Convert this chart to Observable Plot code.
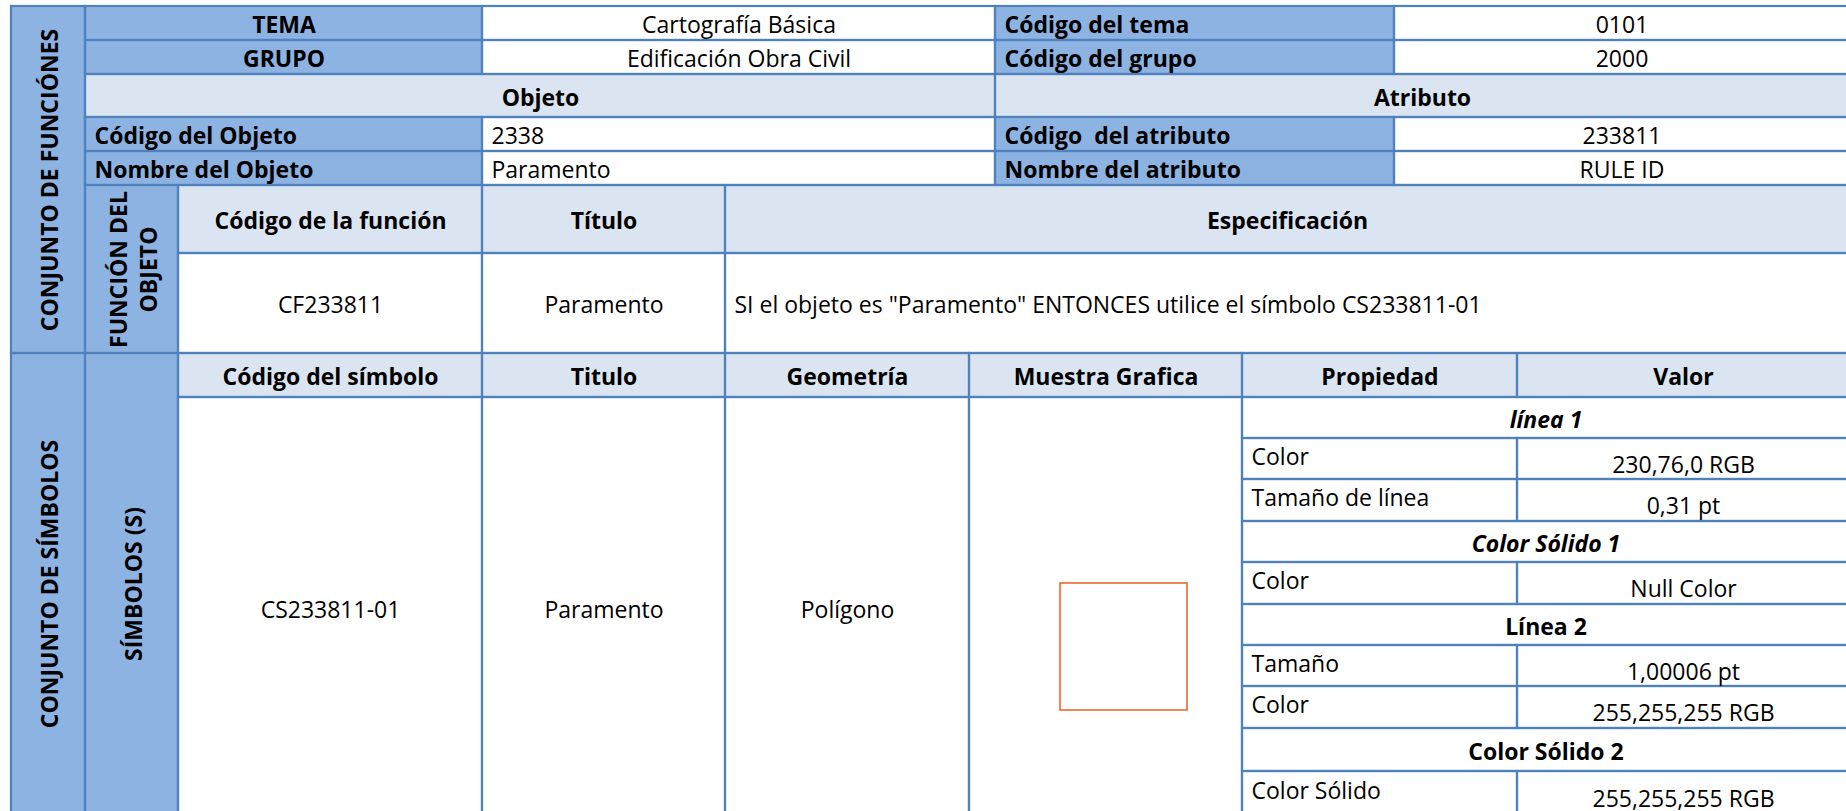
<!DOCTYPE html>
<html>
<head>
<meta charset="utf-8">
<script src="https://cdn.jsdelivr.net/npm/d3@7"></script>
<script src="https://cdn.jsdelivr.net/npm/@observablehq/plot@0.6"></script>
<style>
  html, body { margin: 0; padding: 0; background: #ffffff; }
  #chart svg { display: block; }
</style>
</head>
<body>
<div id="chart"></div>
<script>
// ---------- contenido (valores) ----------
const etiquetasLaterales = ["CONJUNTO DE FUNCIÓNES", "CONJUNTO DE SÍMBOLOS"];
const etiquetaFuncion = "FUNCIÓN DEL\nOBJETO";
const etiquetaSimbolos = "SÍMBOLOS (S)";
const filaTema = ["TEMA", "Cartografía Básica", "Código del tema", "0101"];
const filaGrupo = ["GRUPO", "Edificación Obra Civil", "Código del grupo", "2000"];
const secciones = ["Objeto", "Atributo"];
const filasObjeto = [
  ["Código del Objeto", "2338", "Código  del atributo", "233811"],
  ["Nombre del Objeto", "Paramento", "Nombre del atributo", "RULE ID"]
];
const encabezadosFuncion = ["Código de la función", "Título", "Especificación"];
const valoresFuncion = ["CF233811", "Paramento", "SI el objeto es \"Paramento\" ENTONCES utilice el símbolo CS233811-01"];
const encabezadosSimbolo = ["Código del símbolo", "Titulo", "Geometría", "Muestra Grafica", "Propiedad", "Valor"];
const valoresSimbolo = ["CS233811-01", "Paramento", "Polígono"];
const propiedades = [
  ["línea 1"],
  ["Color", "230,76,0 RGB"],
  ["Tamaño de línea", "0,31 pt"],
  ["Color Sólido 1"],
  ["Color", "Null Color"],
  ["Línea 2"],
  ["Tamaño", "1,00006 pt"],
  ["Color", "255,255,255 RGB"],
  ["Color Sólido 2"],
  ["Color Sólido", "255,255,255 RGB"]
];
const gruposCursiva = ["línea 1", "Color Sólido 1"];
const colorMuestra = "rgb(236,104,44)";

// ---------- rejilla de la tabla ----------
const X = [11, 85, 178, 482, 725, 969, 995, 1242, 1394, 1517, 1849];
const Y = [6, 40, 74, 117, 151, 185, 253, 353, 397, 438, 479, 521, 562, 604, 645, 686, 728, 771, 814];
const OSCURO = "#8db3e2", CLARO = "#dbe5f1", BLANCO = "#ffffff", BORDE = "#4f81bd";

const cells = [];
function cell(c0, c1, r0, r1, fill, text, o = {}) {
  cells.push({c0, c1, r0, r1, fill, text, w: o.w || "normal", it: !!o.it, a: o.a || "middle", dy: o.dy || 0, rot: !!o.rot});
}

cell(0, 1, 0, 7, OSCURO, etiquetasLaterales[0], {w: "bold", rot: true});
cell(0, 1, 7, 18, OSCURO, etiquetasLaterales[1], {w: "bold", rot: true});
[filaTema, filaGrupo].forEach((row, i) => {
  cell(1, 3, i, i + 1, OSCURO, row[0], {w: "bold"});
  cell(3, 6, i, i + 1, BLANCO, row[1]);
  cell(6, 8, i, i + 1, OSCURO, row[2], {w: "bold", a: "start"});
  cell(8, 10, i, i + 1, BLANCO, row[3]);
});
cell(1, 6, 2, 3, CLARO, secciones[0], {w: "bold"});
cell(6, 10, 2, 3, CLARO, secciones[1], {w: "bold"});
filasObjeto.forEach((row, k) => {
  const i = 3 + k;
  cell(1, 3, i, i + 1, OSCURO, row[0], {w: "bold", a: "start"});
  cell(3, 6, i, i + 1, BLANCO, row[1], {a: "start"});
  cell(6, 8, i, i + 1, OSCURO, row[2], {w: "bold", a: "start"});
  cell(8, 10, i, i + 1, BLANCO, row[3]);
});
cell(1, 2, 5, 7, OSCURO, etiquetaFuncion, {w: "bold", rot: true});
const colsFuncion = [[2, 3], [3, 4], [4, 10]];
encabezadosFuncion.forEach((t, j) => cell(colsFuncion[j][0], colsFuncion[j][1], 5, 6, CLARO, t, {w: "bold"}));
valoresFuncion.forEach((t, j) => cell(colsFuncion[j][0], colsFuncion[j][1], 6, 7, BLANCO, t, {a: j === 2 ? "start" : "middle"}));
cell(1, 2, 7, 18, OSCURO, etiquetaSimbolos, {w: "bold", rot: true});
const colsSimbolo = [[2, 3], [3, 4], [4, 5], [5, 7], [7, 9], [9, 10]];
encabezadosSimbolo.forEach((t, j) => cell(colsSimbolo[j][0], colsSimbolo[j][1], 7, 8, CLARO, t, {w: "bold"}));
valoresSimbolo.forEach((t, j) => cell(colsSimbolo[j][0], colsSimbolo[j][1], 8, 18, BLANCO, t, {dy: 2}));
cell(5, 7, 8, 18, BLANCO, "");
propiedades.forEach((p, k) => {
  const r = 8 + k;
  if (p.length === 1) {
    cell(7, 10, r, r + 1, BLANCO, p[0], {w: "bold", it: gruposCursiva.includes(p[0])});
  } else {
    cell(7, 9, r, r + 1, BLANCO, p[0], {a: "start", dy: -4});
    cell(9, 10, r, r + 1, BLANCO, p[1], {dy: 4});
  }
});

const cx = d => d.a === "start" ? X[d.c0] + 9 : (X[d.c0] + X[d.c1]) / 2;
const cy = d => (Y[d.r0] + Y[d.r1]) / 2 + d.dy;

const FONT = "Open Sans";
const SIZE = 23;
const textMarks = d3.groups(cells.filter(d => d.text), d => `${d.w}|${d.it}|${d.a}|${d.rot}`).map(([key, data]) => {
  const d0 = data[0];
  return Plot.text(data, {
    x: cx, y: cy, text: "text",
    textAnchor: d0.a,
    fontWeight: d0.w,
    fontStyle: d0.it ? "italic" : "normal",
    rotate: d0.rot ? -90 : 0,
    lineHeight: 1.3,
    fontFamily: FONT,
    fontSize: SIZE,
    fill: "#000000"
  });
});

// muestra gráfica (cuadro del polígono) dentro de su celda
const muestraCelda = cells.find(d => d.c0 === 5 && d.r0 === 8);
const muestra = [{lado: 127, dx: 18, dy: 41}];
const mx = d => (X[muestraCelda.c0] + X[muestraCelda.c1]) / 2 + d.dx;
const my = d => (Y[muestraCelda.r0] + Y[muestraCelda.r1]) / 2 + d.dy;

const W = 1846, H = 811;
const chart = Plot.plot({
  width: W, height: H,
  margin: 0,
  x: {domain: [0, W], range: [0, W], axis: null},
  y: {domain: [0, H], range: [0, H], axis: null},
  color: {type: "identity"},
  style: {fontFamily: FONT, background: "#ffffff", overflow: "hidden"},
  marks: [
    Plot.rect(cells, {x1: d => X[d.c0], x2: d => X[d.c1], y1: d => Y[d.r0], y2: d => Y[d.r1], fill: "fill"}),
    Plot.rect(cells, {x1: d => X[d.c0], x2: d => X[d.c1], y1: d => Y[d.r0], y2: d => Y[d.r1], fill: "none", stroke: BORDE, strokeWidth: 2.2}),
    Plot.rect(muestra, {x1: d => mx(d) - d.lado / 2, x2: d => mx(d) + d.lado / 2, y1: d => my(d) - d.lado / 2, y2: d => my(d) + d.lado / 2, fill: "none", stroke: colorMuestra, strokeWidth: 1.6}),
    ...textMarks
  ]
});
document.getElementById("chart").appendChild(chart);
</script>
</body>
</html>
